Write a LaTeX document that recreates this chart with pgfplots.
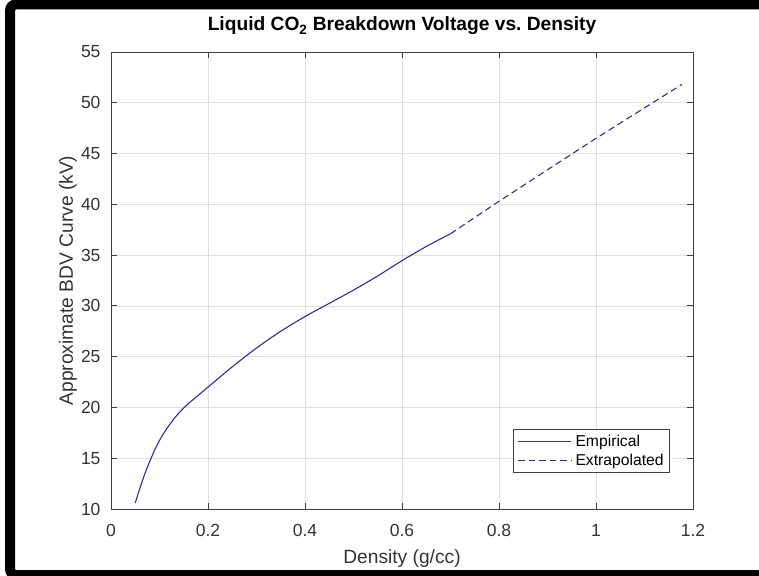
\documentclass[border=0pt]{standalone}
\usepackage{fontspec}
\setmainfont{Liberation Sans}
\usepackage{pgfplots}
\pgfplotsset{compat=1.18}

\definecolor{axgray}{RGB}{64,64,64}
\definecolor{gridgray}{RGB}{223,223,223}
\definecolor{curveblue}{RGB}{45,45,160}

\begin{document}
\begin{tikzpicture}
% figure canvas: 759 x 575
\path[use as bounding box] (0pt,0pt) rectangle (759pt,575pt);
\begin{scope}
  \clip (0pt,0pt) rectangle (759pt,575pt);
  \draw[line width=10pt, rounded corners=6pt] (10pt,0pt) rectangle (785pt,570.5pt);
\end{scope}

\begin{axis}[
  at={(111pt,66pt)}, anchor=south west,
  scale only axis, width=582pt, height=457pt,
  xmin=0, xmax=1.2, ymin=10, ymax=55,
  xtick={0,0.2,0.4,0.6,0.8,1,1.2},
  ytick={10,15,...,55},
  tick align=inside,
  major tick length=6pt,
  axis line style={axgray, line width=0.8pt},
  tick style={axgray, line width=0.8pt},
  grid=major,
  major grid style={gridgray, line width=0.7pt},
  /pgf/number format/assume math mode=true,
  ticklabel style={font=\fontsize{17.5}{17.5}\selectfont, text=axgray!80!black},
  xticklabel style={yshift=-12pt},
  yticklabel style={xshift=-7pt},
  title={\textbf{Liquid CO\textsubscript{2} Breakdown Voltage vs.\ Density}},
  title style={at={(axis description cs:0.5,1)}, anchor=base, yshift=15pt,
    font=\fontsize{19.2}{19.2}\selectfont},
  xlabel={Density (g/cc)},
  xlabel style={at={(axis description cs:0.5,-0.1116)}, anchor=center, yshift=1pt,
    font=\fontsize{19.2}{19.2}\selectfont, text=axgray!80!black},
  ylabel={Approximate BDV Curve (kV)},
  ylabel style={at={(axis description cs:-0.0739,0.5)}, anchor=center, rotate=0,
    font=\fontsize{19.2}{19.2}\selectfont, text=axgray!80!black},
  legend cell align=left,
  legend style={at={(0.9605,0.0788)}, anchor=south east,
    draw=axgray, line width=0.7pt, fill=white,
    font=\fontsize{15.7}{15.7}\selectfont,
    inner xsep=4.5pt, inner ysep=4.5pt, row sep=3pt, column sep=2pt,
    nodes={inner sep=1.5pt}},
  legend image code/.code={\draw[#1] (0pt,0pt) -- (53pt,0pt);},
]
% empirical breakdown-voltage curve
\addplot[curveblue, line width=1.1pt, smooth, tension=0.5] coordinates {
  (0.050,10.6) (0.060,12.1) (0.070,13.5) (0.080,14.7) (0.090,15.8)
  (0.100,16.75) (0.110,17.55) (0.120,18.25) (0.130,18.9) (0.140,19.45)
  (0.150,19.95) (0.160,20.4) (0.175,21.0) (0.190,21.6) (0.200,22.0)
  (0.250,24.0) (0.300,25.85) (0.350,27.5) (0.400,28.95) (0.450,30.25)
  (0.500,31.55) (0.550,32.95) (0.600,34.45) (0.650,35.85) (0.700,37.1)
};
\addlegendentry{Empirical}
% linear extrapolation to higher densities
\addplot[curveblue, line width=1.1pt, dash pattern=on 6.5pt off 4pt] coordinates {
  (0.700,37.1) (0.800,40.3) (0.900,43.4) (1.000,46.5) (1.100,49.5) (1.177,51.8)
};
\addlegendentry{Extrapolated}
\end{axis}
\end{tikzpicture}
\end{document}
